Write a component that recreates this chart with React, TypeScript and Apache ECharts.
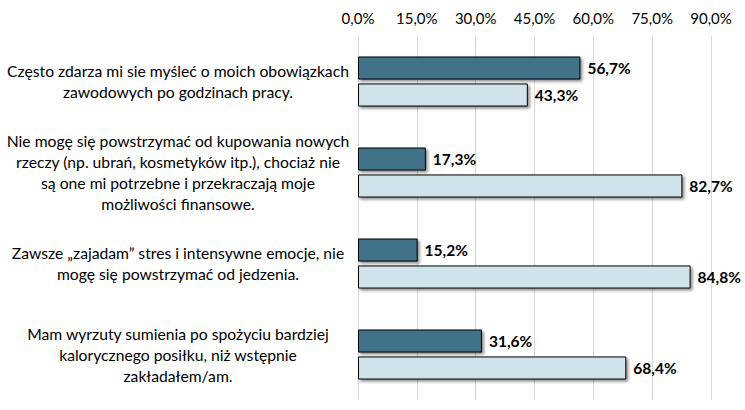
import React, { useEffect, useRef } from "react";
import * as echarts from "echarts";

const categories = [
  "Często zdarza mi sie myśleć o moich obowiązkach\nzawodowych po godzinach pracy.",
  "Nie mogę się powstrzymać od kupowania nowych\nrzeczy (np. ubrań, kosmetyków itp.), chociaż nie\nsą one mi potrzebne i przekraczają moje\nmożliwości finansowe.",
  "Zawsze „zajadam” stres i intensywne emocje, nie\nmogę się powstrzymać od jedzenia.",
  "Mam wyrzuty sumienia po spożyciu bardziej\nkalorycznego posiłku, niż wstępnie\nzakładałem/am.",
];
const seriesTak = [56.7, 17.3, 15.2, 31.6];
const seriesNie = [43.3, 82.7, 84.8, 68.4];

const fmt = (v: number) => v.toFixed(1).replace(".", ",") + "%";

export default function App() {
  const ref = useRef<HTMLDivElement>(null);
  useEffect(() => {
    document.body.style.margin = "0";
    const chart = echarts.init(ref.current!, undefined, { renderer: "svg" });
    const font = "Lato";
    const barStyle = (color: string) => ({
      color,
      borderColor: "#000",
      borderWidth: 1,
      shadowColor: "rgba(0,0,0,0.45)",
      shadowBlur: 3,
      shadowOffsetX: 2,
      shadowOffsetY: 2,
    });
    const label = {
      show: true,
      position: "right" as const,
      distance: 7,
      fontFamily: font,
      fontWeight: "bold" as const,
      fontSize: 15.5,
      color: "#000",
      formatter: (p: any) => fmt(p.value),
    };
    chart.setOption({
      animation: false,
      grid: { left: 358, right: 34, top: 36, bottom: 10, containLabel: false },
      xAxis: {
        type: "value",
        position: "top",
        min: 0,
        max: 90,
        interval: 15,
        axisLine: { show: false },
        axisTick: { show: false },
        splitLine: { lineStyle: { color: "#d9d9d9", width: 1 } },
        axisLabel: {
          formatter: (v: number) => fmt(v),
          fontFamily: font,
          fontSize: 15,
          color: "#000",
          margin: 11,
        },
      },
      yAxis: {
        type: "category",
        data: categories,
        inverse: true,
        axisLine: { show: false },
        axisTick: { show: false },
        axisLabel: {
          align: "center",
          margin: 180,
          fontFamily: font,
          fontSize: 15.7,
          lineHeight: 21,
          color: "#000",
        },
      },
      series: [
        {
          name: "Tak",
          type: "bar",
          data: seriesTak,
          barGap: "17%",
          barCategoryGap: "45%",
          itemStyle: barStyle("#41738a"),
          label,
        },
        {
          name: "Nie",
          type: "bar",
          data: seriesNie,
          itemStyle: barStyle("#d0e2ea"),
          label,
        },
      ],
    });
    return () => chart.dispose();
  }, []);
  return <div ref={ref} style={{ width: 745, height: 410 }} />;
}
